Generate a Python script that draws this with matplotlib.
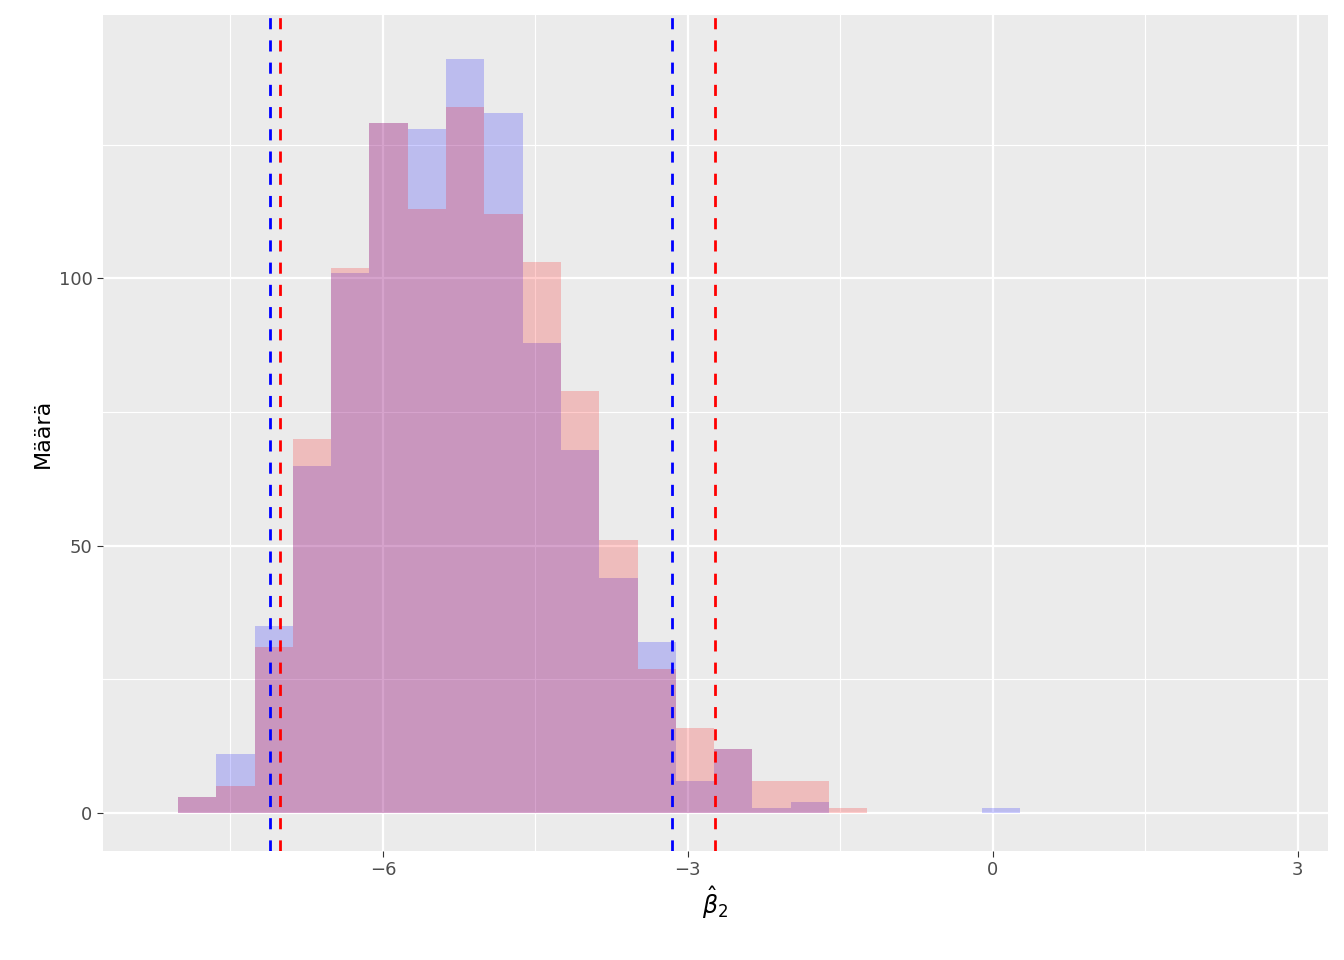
import numpy as np
import matplotlib.pyplot as plt

# histogram bins (left edge, width) and counts
bin_start = -8.016
bin_width = 0.3767
red_counts = [3, 5, 31, 70, 102, 129, 113, 132, 112, 103, 79, 51, 27, 16, 12, 6, 6, 1, 0, 0, 0, 0]
blue_counts = [3, 11, 35, 65, 101, 129, 128, 141, 131, 88, 68, 44, 32, 6, 12, 1, 2, 0, 0, 0, 0, 1]
red_lines = [-7.01, -2.734]
blue_lines = [-7.11, -3.157]

lefts = bin_start + bin_width * np.arange(len(red_counts))

fig = plt.figure(figsize=(13.44, 9.6), dpi=100)
ax = fig.add_axes([0.0766, 0.1135, 0.9114, 0.8705])
ax.set_facecolor('#EBEBEB')

ax.bar(lefts, blue_counts, width=bin_width, align='edge', color='blue', alpha=0.2, linewidth=0, zorder=2)
ax.bar(lefts, red_counts, width=bin_width, align='edge', color='red', alpha=0.2, linewidth=0, zorder=3)

for x in blue_lines:
    ax.axvline(x, color='blue', linestyle=(0, (4, 4)), linewidth=2, zorder=4)
for x in red_lines:
    ax.axvline(x, color='red', linestyle=(0, (4, 4)), linewidth=2, zorder=4)

ax.set_xlim(-8.754, 3.295)
ax.set_ylim(-7.1, 149.2)
ax.set_xticks([-6, -3, 0, 3])
ax.set_xticks([-7.5, -4.5, -1.5, 1.5], minor=True)
ax.set_yticks([0, 50, 100])
ax.set_yticks([25, 75, 125], minor=True)
ax.grid(which='major', color='white', linewidth=1.6, zorder=0)
ax.grid(which='minor', color='white', linewidth=0.8, zorder=0)
ax.set_axisbelow(True)
for s in ax.spines.values():
    s.set_visible(False)
ax.tick_params(which='major', length=4, color='#333333', labelsize=13, labelcolor='#4D4D4D')
ax.tick_params(which='minor', length=0)

ax.set_xlabel(r'$\hat{\beta}_2$', fontsize=17)
ax.set_ylabel('Määrä', fontsize=16)

fig.savefig('out.png', dpi=100)
